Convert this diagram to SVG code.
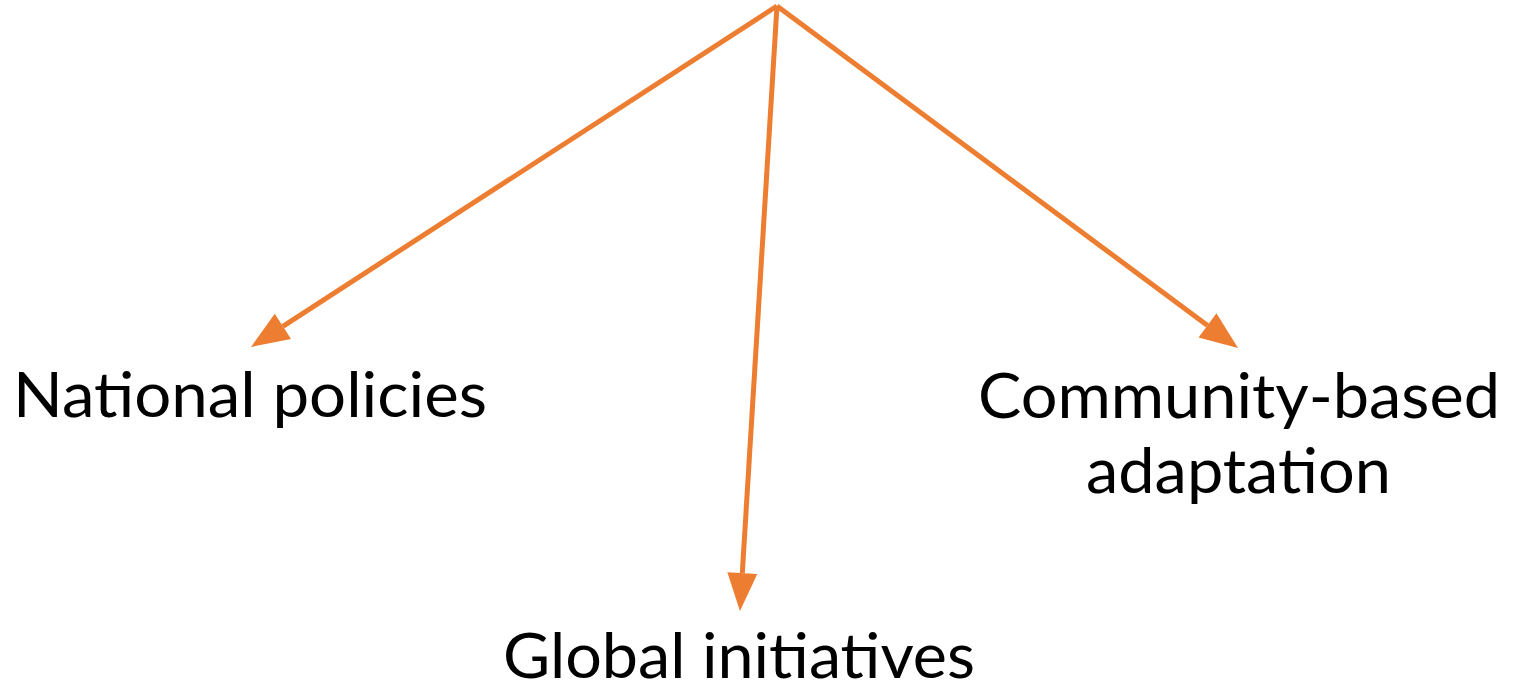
<svg xmlns="http://www.w3.org/2000/svg" width="1517" height="684" viewBox="0 0 1517 684">
  <style>
    .edge { fill: none; stroke: #ED7D31; stroke-width: 5; marker-end: url(#head); }
    .label { font-family: Lato, "Noto Sans", "Liberation Sans", sans-serif; font-size: 62px; fill: #000000; }
  </style>
  <defs>
    <!-- triangular head; the path ends at its base, the tip sits 38px further on -->
    <marker id="head" markerUnits="userSpaceOnUse" markerWidth="40" markerHeight="32" refX="0" refY="15" orient="auto" overflow="visible">
      <path d="M0,0 L38,15 L0,30 Z" fill="#ED7D31"/>
    </marker>
  </defs>
  <rect width="1517" height="684" fill="#ffffff"/>
  <g id="connectors">
    <path class="edge" d="M777,6 L282.9,326.3"/>
    <path class="edge" d="M777,6 L742.3,573.1"/>
    <path class="edge" d="M777,6 L1207.5,325.4"/>
  </g>
  <g id="node-national">
    <text class="label" x="13" y="417" textLength="474" lengthAdjust="spacingAndGlyphs">National policies</text>
  </g>
  <g id="node-global">
    <text class="label" x="503" y="678" textLength="472" lengthAdjust="spacingAndGlyphs">Global initiatives</text>
  </g>
  <g id="node-community">
    <text class="label" x="978" y="418" textLength="522" lengthAdjust="spacingAndGlyphs">Community-based</text>
    <text class="label" x="1086" y="493" textLength="305" lengthAdjust="spacingAndGlyphs">adaptation</text>
  </g>
</svg>
